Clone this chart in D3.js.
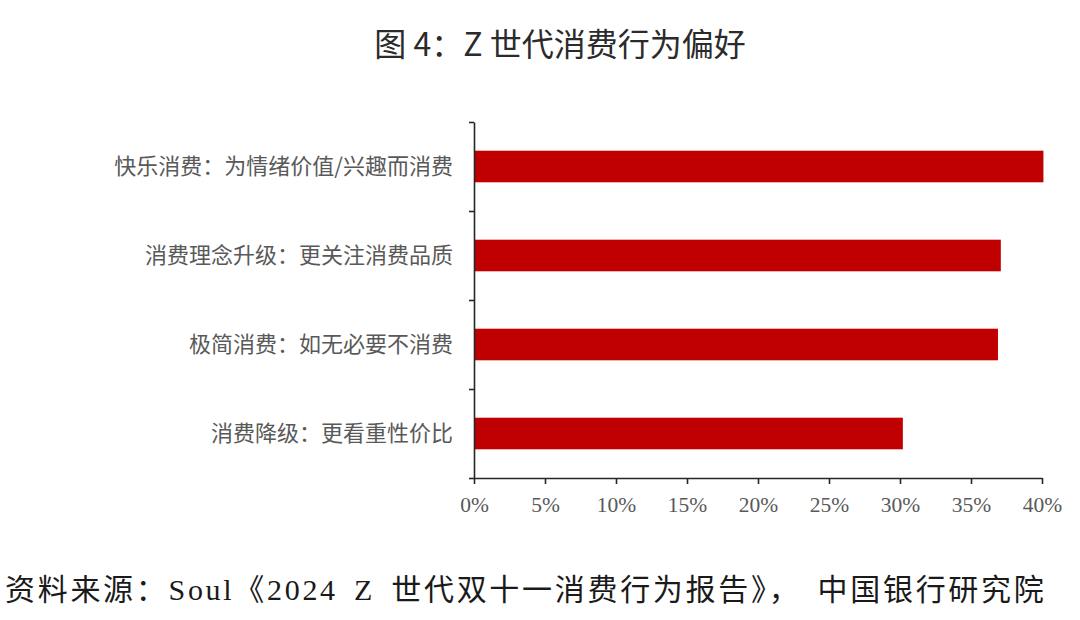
<!DOCTYPE html>
<html>
<head>
<meta charset="utf-8">
<script src="https://cdn.jsdelivr.net/npm/d3@7/dist/d3.min.js"></script>
<style>
  body { margin: 0; background: #fff; }
  svg text { font-family: "Noto Sans CJK SC", sans-serif; }
</style>
</head>
<body>
<svg id="chart" width="1080" height="620"></svg>
<script>
// categories, top to bottom
const categories = [
    "快乐消费：为情绪价值/兴趣而消费",
    "消费理念升级：更关注消费品质",
    "极简消费：如无必要不消费",
    "消费降级：更看重性价比"
];
// share of respondents
const values = [0.401, 0.371, 0.369, 0.302];
// x axis ticks
const xTicks = [0, 0.05, 0.10, 0.15, 0.20, 0.25, 0.30, 0.35, 0.40];

const svg = d3.select("#chart");

const x = d3.scaleLinear()
    .domain([0, 0.40])
    .range([474, 1042]);

const y = d3.scaleBand()
    .domain(categories)
    .range([122, 478])
    .paddingInner(0.645)
    .paddingOuter(0.3225);

// boundaries between categories (for the small ticks on the y axis)
const yEdge = d3.scaleLinear()
    .domain([0, categories.length])
    .range([122, 478]);

//title
svg.append("text")
    .attr("x", 560)
    .attr("y", 56)
    .attr("text-anchor", "middle")
    .style("font-size", "32px")
    .style("font-weight", 400)
    .style("fill", "#2b2b2b")
    .text("图 4：Z 世代消费行为偏好");

// bars
svg.append("g")
    .selectAll("rect")
    .data(values)
    .enter()
    .append("rect")
    .attr("x", x(0))
    .attr("y", (d, i) => y(categories[i]))
    .attr("width", d => x(d) - x(0))
    .attr("height", y.bandwidth())
    .attr("fill", "#C00000");

// y axis
const yAxis = svg.append("g")
    .attr("transform", "translate(" + x(0) + ",0)")
    .call(d3.axisLeft(yEdge)
        .tickValues(d3.range(0, categories.length + 1))
        .tickFormat("")
        .tickSize(5)
        .tickSizeOuter(0));

// category labels
svg.append("g")
    .selectAll("text")
    .data(categories)
    .enter()
    .append("text")
    .attr("x", 453)
    .attr("y", d => y(d) + y.bandwidth() / 2)
    .attr("dy", "0.36em")
    .attr("text-anchor", "end")
    .style("font-size", "22px")
    .style("fill", "#595959")
    .text(d => d);

// x axis
const xAxis = svg.append("g")
    .attr("transform", "translate(0,478)")
    .call(d3.axisBottom(x)
        .tickValues(xTicks)
        .tickFormat(d3.format(".0%"))
        .tickSize(6)
        .tickSizeOuter(0)
        .tickPadding(13));

xAxis.selectAll("text")
    .style("font-family", "'Liberation Serif', serif")
    .style("font-size", "21.5px")
    .style("fill", "#595959");

[xAxis, yAxis].forEach(g => {
    g.select(".domain").attr("stroke", "#262626").attr("stroke-width", 1.6);
    g.selectAll(".tick line").attr("stroke", "#262626").attr("stroke-width", 1.6);
});

// source note
svg.append("text")
    .attr("x", 5)
    .attr("y", 600)
    .attr("xml:space", "preserve")
    .style("font-size", "30px")
    .style("letter-spacing", "2.7px")
    .style("word-spacing", "6px")
    .style("white-space", "pre")
    .style("font-family", "'Liberation Serif', 'Noto Sans CJK SC', serif")
    .style("fill", "#1a1a1a")
    .text("资料来源：Soul《2024 Z 世代双十一消费行为报告》， 中国银行研究院");
</script>
</body>
</html>
